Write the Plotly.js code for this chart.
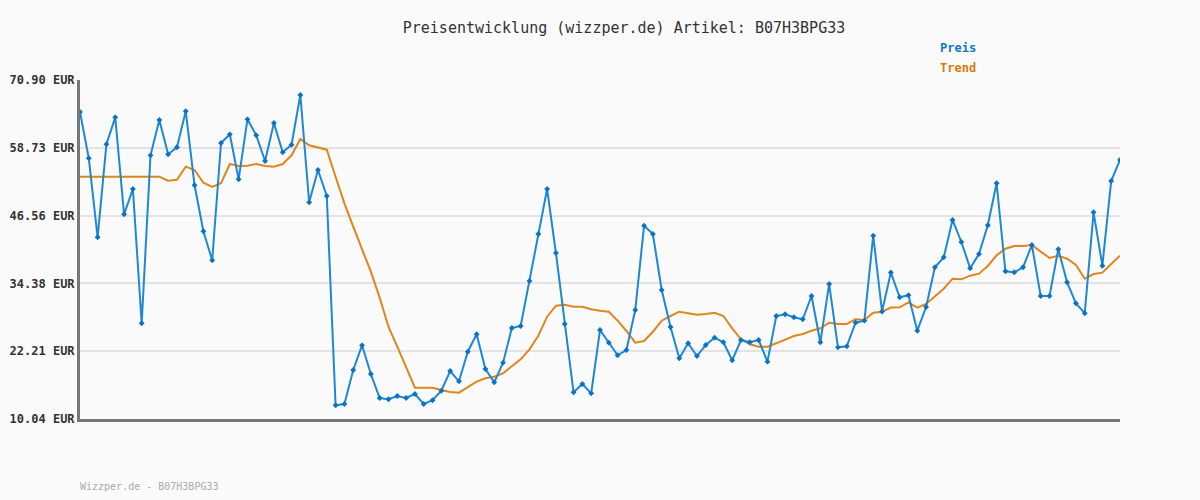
<!DOCTYPE html>
<html>
<head>
<meta charset="utf-8">
<script src="https://cdn.plot.ly/plotly-3.0.1.min.js"></script>
<style>
html,body{margin:0;padding:0;background:#fafafa;}
#chart{width:1200px;height:500px;}
</style>
</head>
<body>
<div id="chart"></div>
<script>
const preis = [65.15,56.84,42.66,59.36,64.20,46.79,51.33,27.22,57.38,63.72,
57.56,58.82,65.28,52.00,43.74,38.53,59.59,61.15,53.07,63.84,
60.97,56.36,63.18,57.92,59.28,68.21,48.94,54.74,50.07,12.50,
12.73,18.84,23.27,18.12,13.81,13.58,14.17,13.81,14.53,12.73,
13.40,15.12,18.66,16.81,22.12,25.25,19.02,16.63,20.15,26.38,
26.74,34.82,43.25,51.33,39.84,27.10,14.83,16.32,14.65,26.02,
23.74,21.48,22.43,29.61,44.74,43.25,33.20,26.56,20.94,23.63,
21.35,23.33,24.64,23.81,20.58,24.22,23.81,24.22,20.33,28.53,
28.84,28.30,27.94,32.12,23.81,34.28,22.91,23.09,27.33,27.69,
42.95,29.34,36.34,31.89,32.25,25.89,30.15,37.28,39.07,45.77,
41.82,37.10,39.66,44.82,52.36,36.56,36.38,37.28,41.28,32.12,
32.12,40.51,34.58,30.81,29.02,47.15,37.56,52.77,56.54];

const trend = [53.54,53.54,53.54,53.54,53.54,53.54,53.54,53.54,53.54,53.54,
52.82,53.00,55.34,54.74,52.46,51.69,52.36,55.82,55.46,55.51,
55.82,55.46,55.34,55.82,57.38,60.31,59.18,58.75,58.39,53.54,
48.76,44.56,40.69,36.49,31.82,26.61,23.02,19.25,15.66,15.66,
15.66,15.25,14.89,14.77,15.73,16.74,17.35,17.64,18.25,19.43,
20.76,22.55,25.00,28.41,30.38,30.56,30.20,30.20,29.74,29.48,
29.30,27.70,25.84,23.74,24.04,25.71,27.69,28.53,29.30,29.02,
28.77,28.89,29.12,28.53,26.32,24.35,23.45,23.02,23.02,23.63,
24.35,24.94,25.30,25.89,26.32,27.33,27.10,27.10,27.94,27.81,
29.12,29.30,30.06,30.10,30.99,30.02,30.69,32.12,33.43,35.23,
35.12,35.77,36.13,37.51,39.43,40.61,41.10,41.10,41.28,40.08,
38.95,39.36,38.82,37.69,35.23,36.07,36.31,37.87,39.36];

const tickValues = [10.04,22.21,34.38,46.56,58.73,70.90];
const tickLabels = ["10.04 EUR","22.21 EUR","34.38 EUR","46.56 EUR","58.73 EUR","70.90 EUR"];
const seriesNames = ["Preis","Trend"];
const titleText = "Preisentwicklung (wizzper.de) Artikel: B07H3BPG33";
const footerText = "Wizzper.de - B07H3BPG33";

const idx = preis.map((_, i) => i);
const blue = "#1e88d4";
const orange = "#e0861c";
const mono = "DejaVu Sans Mono, Liberation Mono, monospace";

const traces = [
  {x: idx, y: trend, type: "scatter", mode: "lines", name: seriesNames[1],
   line: {color: orange, width: 2}, hoverinfo: "y"},
  {x: idx, y: preis, type: "scatter", mode: "lines+markers", name: seriesNames[0],
   line: {color: blue, width: 2}, marker: {symbol: "diamond", size: 4.5, color: "#0b72c4"}, hoverinfo: "y"}
];

const layout = {
  width: 1200, height: 500,
  paper_bgcolor: "#fafafa", plot_bgcolor: "#fafafa",
  margin: {l: 80, r: 80, t: 80, b: 81},
  showlegend: false,
  title: {text: titleText, x: 0.52, xanchor: "center", y: 0.944, yanchor: "middle",
          font: {family: mono, size: 15, color: "#333"}},
  xaxis: {range: [0, preis.length - 1], showgrid: false, zeroline: false,
          showticklabels: false, ticks: "", showline: true, linecolor: "#777", linewidth: 3},
  yaxis: {range: [tickValues[0], tickValues[tickValues.length-1]], tickvals: tickValues, ticktext: tickLabels,
          showgrid: true, gridcolor: "#e3e3e3", gridwidth: 2, zeroline: false,
          showline: true, linecolor: "#777", linewidth: 3, ticks: "",
          tickfont: {family: mono, size: 12, color: "#333", weight: "bold"}},
  annotations: [
    {xref: "paper", yref: "paper", x: 0.825, y: 1.094, xanchor: "left", yanchor: "middle",
     text: "<b>" + seriesNames[0] + "</b>", showarrow: false, font: {family: mono, size: 12, color: "#0a78c8"}},
    {xref: "paper", yref: "paper", x: 0.825, y: 1.035, xanchor: "left", yanchor: "middle",
     text: "<b>" + seriesNames[1] + "</b>", showarrow: false, font: {family: mono, size: 12, color: "#d97a0c"}},
    {xref: "paper", yref: "paper", x: -0.002, y: -0.2, xanchor: "left", yanchor: "middle",
     text: footerText, showarrow: false, font: {family: mono, size: 10, color: "#aaa"}}
  ]
};

Plotly.newPlot("chart", traces, layout, {displayModeBar: false, staticPlot: true});
</script>
</body>
</html>
